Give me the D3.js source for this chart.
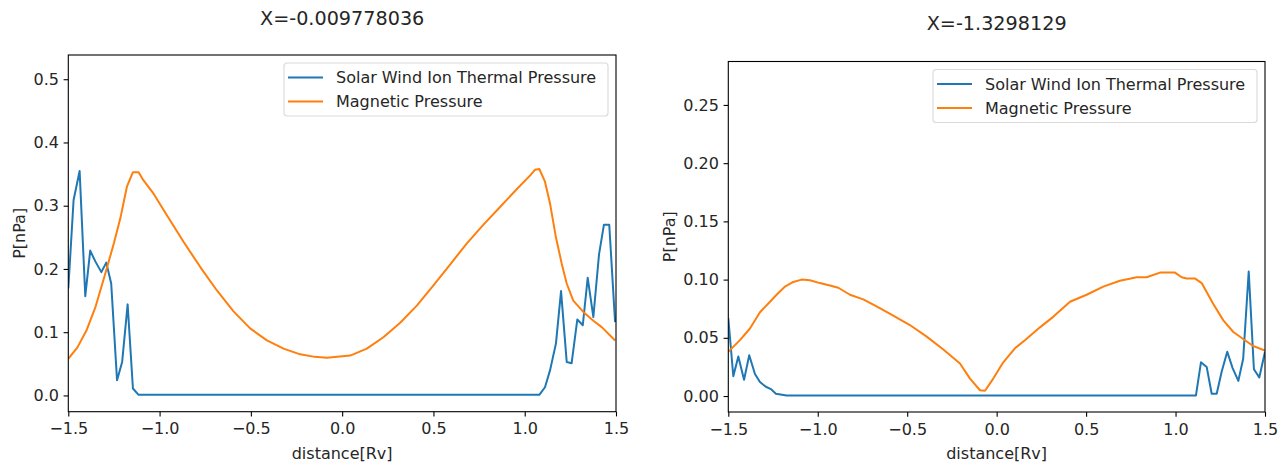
<!DOCTYPE html>
<html>
<head>
<meta charset="utf-8">
<script src="https://cdn.jsdelivr.net/npm/d3@7"></script>
<style>
  html, body { margin: 0; padding: 0; background: #fff; }
  svg { display: block; font-family: "DejaVu Sans", sans-serif; }
</style>
</head>
<body>
<svg id="chart" width="1283" height="466"></svg>
<script>
// ---------------- DATA ----------------
const titles = ["X=-0.009778036", "X=-1.3298129"];
const seriesNames = ["Solar Wind Ion Thermal Pressure", "Magnetic Pressure"];
const xTicks = [-1.5, -1.0, -0.5, 0.0, 0.5, 1.0, 1.5];
const yTicksLeft = [0.0, 0.1, 0.2, 0.3, 0.4, 0.5];
const yTicksRight = [0.00, 0.05, 0.10, 0.15, 0.20, 0.25];

// Left panel: thermal pressure
const leftThermalX = [-1.5, -1.471, -1.438, -1.407, -1.38, -1.352, -1.319, -1.292, -1.265, -1.233, -1.205, -1.175, -1.146, -1.115,
  1.080, 1.111, 1.139, 1.171, 1.199, 1.230, 1.257, 1.288, 1.318, 1.345, 1.376, 1.407, 1.434, 1.463, 1.495];
const leftThermalY = [0.169, 0.309, 0.355, 0.157, 0.229, 0.212, 0.195, 0.210, 0.177, 0.024, 0.053, 0.144, 0.011, 0.001,
  0.001, 0.013, 0.040, 0.082, 0.165, 0.053, 0.051, 0.120, 0.111, 0.186, 0.124, 0.223, 0.270, 0.270, 0.116];
// Left panel: magnetic pressure
const leftMagX = [-1.5, -1.45, -1.40, -1.35, -1.30, -1.25, -1.215, -1.179, -1.146, -1.115, -1.088, -1.033, -0.960, -0.869, -0.777,
  -0.686, -0.595, -0.504, -0.412, -0.321, -0.230, -0.150, -0.084, 0.044, 0.135, 0.226, 0.318, 0.409, 0.500, 0.591, 0.682,
  0.774, 0.865, 0.956, 1.030, 1.057, 1.080, 1.111, 1.139, 1.171, 1.203, 1.230, 1.266, 1.321, 1.376, 1.422, 1.495];
const leftMagY = [0.058, 0.076, 0.103, 0.141, 0.190, 0.241, 0.280, 0.330, 0.353, 0.353, 0.340, 0.319, 0.285, 0.243, 0.203,
  0.166, 0.133, 0.106, 0.087, 0.074, 0.065, 0.061, 0.0595, 0.063, 0.074, 0.092, 0.115, 0.142, 0.174, 0.207, 0.240,
  0.270, 0.298, 0.326, 0.348, 0.357, 0.358, 0.338, 0.303, 0.250, 0.208, 0.177, 0.150, 0.132, 0.118, 0.108, 0.087];

// Right panel: thermal pressure
const rightThermalX = [-1.5, -1.472, -1.444, -1.412, -1.383, -1.351, -1.323, -1.290, -1.262, -1.234, -1.174,
  1.114, 1.142, 1.174, 1.202, 1.230, 1.258, 1.289, 1.319, 1.351, 1.378, 1.409, 1.438, 1.468, 1.5];
const rightThermalY = [0.067, 0.017, 0.034, 0.014, 0.035, 0.019, 0.012, 0.008, 0.006, 0.002, 0.0005,
  0.0005, 0.029, 0.025, 0.002, 0.002, 0.021, 0.038, 0.024, 0.013, 0.032, 0.107, 0.023, 0.016, 0.038];
// Right panel: magnetic pressure
const rightMagX = [-1.5, -1.435, -1.379, -1.323, -1.267, -1.230, -1.183, -1.137, -1.090, -1.044, -0.988, -0.932, -0.885,
  -0.820, -0.746, -0.671, -0.578, -0.485, -0.391, -0.298, -0.205, -0.149, -0.093, -0.065, -0.019, 0.037, 0.102, 0.158,
  0.242, 0.316, 0.410, 0.503, 0.596, 0.689, 0.783, 0.838, 0.913, 0.997, 1.034, 1.062, 1.108, 1.146, 1.211, 1.267,
  1.323, 1.378, 1.434, 1.5];
const rightMagY = [0.038, 0.048, 0.058, 0.072, 0.081, 0.087, 0.094, 0.098, 0.100, 0.0994, 0.097, 0.095, 0.093,
  0.087, 0.083, 0.077, 0.069, 0.061, 0.051, 0.040, 0.028, 0.015, 0.005, 0.0046, 0.015, 0.029, 0.041, 0.048,
  0.059, 0.068, 0.081, 0.087, 0.094, 0.099, 0.102, 0.102, 0.106, 0.106, 0.102, 0.101, 0.101, 0.097, 0.079, 0.065,
  0.055, 0.049, 0.043, 0.039];

// ---------------- DRAW ----------------
const svg = d3.select("#chart");
const colors = ["#1f77b4", "#ff7f0e"];
const FONT = 16;

const panels = [
  { left: 68.3, right: 616, top: 55, bottom: 411.7, yDomain: [-0.0257, 0.5383], yTicks: yTicksLeft, fmt: d3.format(".1f"),
    title: titles[0], titleY: 25, ylabelX: 19,
    series: [[leftThermalX, leftThermalY], [leftMagX, leftMagY]] },
  { left: 728.3, right: 1265, top: 61.5, bottom: 412, yDomain: [-0.0137, 0.2873], yTicks: yTicksRight, fmt: d3.format(".2f"),
    title: titles[1], titleY: 30, ylabelX: 669,
    series: [[rightThermalX, rightThermalY], [rightMagX, rightMagY]] }
];

const minusFmt = v => d3.format(".1f")(v).replace("-", "\u2212").replace("\u22120.0", "0.0");

panels.forEach(p => {
  const x = d3.scaleLinear().domain([-1.5, 1.5]).range([p.left, p.right]);
  const y = d3.scaleLinear().domain(p.yDomain).range([p.bottom, p.top]);
  const g = svg.append("g");

  const cid = "clip" + Math.round(p.left);
  svg.append("clipPath").attr("id", cid).append("rect")
    .attr("x", p.left).attr("y", p.top).attr("width", p.right - p.left).attr("height", p.bottom - p.top);

  const line = d3.line().x(d => x(d[0])).y(d => y(d[1]));
  p.series.forEach((s, i) => {
    const pts = s[0].map((xv, k) => [xv, s[1][k]]);
    g.append("path").datum(pts)
      .attr("clip-path", `url(#${cid})`)
      .attr("d", line)
      .attr("fill", "none")
      .attr("stroke", colors[i])
      .attr("stroke-width", 2)
      .attr("stroke-linejoin", "round")
      .attr("stroke-linecap", "butt");
  });

  const xAxis = d3.axisBottom(x).tickValues(xTicks).tickFormat(minusFmt).tickSize(4.7).tickPadding(6.5).tickSizeOuter(0);
  const yAxis = d3.axisLeft(y).tickValues(p.yTicks).tickFormat(p.fmt).tickSize(4.7).tickPadding(4.7).tickSizeOuter(0);
  const gx = g.append("g").attr("transform", `translate(0,${p.bottom})`).call(xAxis);
  const gy = g.append("g").attr("transform", `translate(${p.left},0)`).call(yAxis);
  [gx, gy].forEach(a => {
    a.select(".domain").remove();
    a.selectAll(".tick line").attr("stroke", "#000").attr("stroke-width", 1.1);
    a.selectAll(".tick text").attr("fill", "#262626").style("font-size", FONT + "px")
      .style("font-family", "DejaVu Sans, sans-serif");
  });

  g.append("rect").attr("x", p.left).attr("y", p.top)
    .attr("width", p.right - p.left).attr("height", p.bottom - p.top)
    .attr("fill", "none").attr("stroke", "#000").attr("stroke-width", 1.1);

  g.append("text").attr("x", (p.left + p.right) / 2).attr("y", 459)
    .attr("text-anchor", "middle").attr("fill", "#262626").style("font-size", FONT + "px")
    .text("distance[Rv]");
  g.append("text").attr("transform", `translate(${p.ylabelX},${(p.top + p.bottom) / 2}) rotate(-90)`)
    .attr("text-anchor", "middle").attr("dy", "0.35em").attr("fill", "#262626").style("font-size", FONT + "px")
    .text("P[nPa]");
  g.append("text").attr("x", (p.left + p.right) / 2).attr("y", p.titleY)
    .attr("text-anchor", "middle").attr("fill", "#262626").style("font-size", (FONT * 1.2) + "px")
    .text(p.title);

  const lw = 324, lh = 53;
  const lx = p.right - 8 - lw, ly = p.top + 8;
  const lg = g.append("g").attr("transform", `translate(${lx},${ly})`);
  lg.append("rect").attr("x", 0).attr("y", 0).attr("width", lw).attr("height", lh)
    .attr("rx", 3).attr("fill", "#fff").attr("fill-opacity", 0.8)
    .attr("stroke", "#d9d9d9").attr("stroke-width", 1.1);
  seriesNames.forEach((n, i) => {
    const cy = 14.5 + i * 24;
    lg.append("line").attr("x1", 4).attr("x2", 39).attr("y1", cy).attr("y2", cy)
      .attr("stroke", colors[i]).attr("stroke-width", 2);
    lg.append("text").attr("x", 52).attr("y", cy).attr("dy", "0.36em")
      .attr("fill", "#262626").style("font-size", FONT + "px").text(n);
  });
});
</script>
</body>
</html>
